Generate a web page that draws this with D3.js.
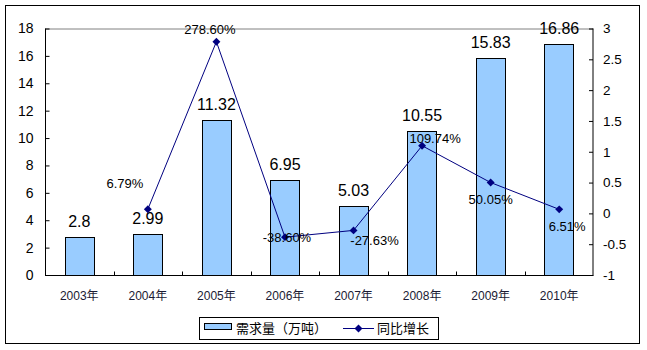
<!DOCTYPE html>
<html>
<head>
<meta charset="utf-8">
<script src="https://cdn.jsdelivr.net/npm/d3@7/dist/d3.min.js"></script>
<style>
  html, body { margin: 0; padding: 0; background: #fff; }
  svg { display: block; font-family: Arial, "Liberation Sans", "Noto Sans CJK SC", sans-serif; }
</style>
</head>
<body>
<svg id="chart" width="647" height="350"></svg>
<script>
// Demand (10k tonnes) and year-on-year growth, 2003–2010
const years = ["2003年", "2004年", "2005年", "2006年", "2007年", "2008年", "2009年", "2010年"];
const demand = [2.8, 2.99, 11.32, 6.95, 5.03, 10.55, 15.83, 16.86];
const growth = [null, 0.0679, 2.786, -0.386, -0.2763, 1.0974, 0.5005, 0.0651];
const growthLabels = [null, "6.79%", "278.60%", "-38.60%", "-27.63%", "109.74%", "50.05%", "6.51%"];
const leftTicks = [0, 2, 4, 6, 8, 10, 12, 14, 16, 18];
const rightTicks = [-1, -0.5, 0, 0.5, 1, 1.5, 2, 2.5, 3];
const seriesNames = ["需求量（万吨）", "同比增长"];

// label placement relative to each growth point (dx, dy of text baseline)
const growthLabelOffset = [null, [-23, -21], [-6.5, -8], [2, 5], [21, 15], [13, -3], [0, 21], [8, 22]];

const svg = d3.select("#chart");
const m = { left: 45, right: 593.5, top: 28.5, bottom: 275 };

const x = d3.scaleBand().domain(years).range([m.left, m.right]).paddingInner(0.57).paddingOuter(0.285);
const xPoint = d3.scaleBand().domain(years).range([m.left, m.right]);
const yL = d3.scaleLinear().domain([0, 18]).range([m.bottom, m.top]);
const yR = d3.scaleLinear().domain([-1, 3]).range([m.bottom, m.top]);

// outer chart frame
svg.append("rect").attr("x", 5.5).attr("y", 5.5).attr("width", 634).attr("height", 338)
  .attr("fill", "#fff").attr("stroke", "#000").attr("stroke-width", 1);

// plot area top edge
svg.append("line").attr("x1", m.left).attr("x2", m.right).attr("y1", m.top + 0.5).attr("y2", m.top + 0.5)
  .attr("stroke", "#808080").attr("stroke-width", 1);

// bars
svg.append("g").selectAll("rect").data(demand).join("rect")
  .attr("x", (d, i) => Math.round(x(years[i])) + 0.5)
  .attr("y", d => Math.round(yL(d)) + 0.5)
  .attr("width", Math.round(x.bandwidth()))
  .attr("height", d => Math.round(yL(0)) - Math.round(yL(d)))
  .attr("fill", "#99ccff").attr("stroke", "#000").attr("stroke-width", 1);

// bar value labels
svg.append("g").selectAll("text").data(demand).join("text")
  .attr("x", (d, i) => x(years[i]) + x.bandwidth() / 2)
  .attr("y", d => yL(d) - 10)
  .attr("text-anchor", "middle").attr("font-size", 16).attr("fill", "#000")
  .text(d => d);

// left axis
const axL = svg.append("g").attr("transform", `translate(${m.left + 0.5},0)`)
  .call(d3.axisRight(yL).tickValues(leftTicks).tickSize(4).tickFormat(d3.format("d")));
axL.select(".domain").attr("stroke", "#000").attr("d", `M0,${m.top}V${m.bottom + 0.5}`);
axL.selectAll(".tick line").attr("stroke", "#000");
axL.selectAll(".tick text").attr("x", -12).attr("text-anchor", "end")
  .attr("font-size", 14).attr("font-family", "Arial, 'Liberation Sans', sans-serif").attr("fill", "#000");

// right axis
const axR = svg.append("g").attr("transform", `translate(${m.right - 0.5},0)`)
  .call(d3.axisLeft(yR).tickValues(rightTicks).tickSize(4).tickFormat(d => d));
axR.select(".domain").attr("stroke", "#000").attr("d", `M0,${m.top}V${m.bottom + 0.5}`);
axR.selectAll(".tick line").attr("stroke", "#000");
axR.selectAll(".tick text").attr("x", 10).attr("text-anchor", "start")
  .attr("font-size", 13.5).attr("font-family", "Arial, 'Liberation Sans', sans-serif").attr("fill", "#000");

// bottom axis
const axB = svg.append("g").attr("transform", `translate(0,${m.bottom + 0.5})`);
axB.append("line").attr("x1", m.left).attr("x2", m.right).attr("stroke", "#000");
axB.selectAll("line.tk").data(years.slice(1)).join("line").attr("class", "tk")
  .attr("x1", d => Math.round(xPoint(d)) + 0.5).attr("x2", d => Math.round(xPoint(d)) + 0.5)
  .attr("y1", 0).attr("y2", -4).attr("stroke", "#000");
axB.selectAll("text").data(years).join("text")
  .attr("x", d => xPoint(d) + xPoint.bandwidth() / 2)
  .attr("y", 24).attr("text-anchor", "middle").attr("font-size", 12).attr("fill", "#1a1a33")
  .text(d => d);

// growth line
const pts = growth.map((g, i) => ({ g, i })).filter(p => p.g !== null);
const cx = p => xPoint(years[p.i]) + xPoint.bandwidth() / 2;
svg.append("path").datum(pts)
  .attr("d", d3.line().x(cx).y(p => yR(p.g)))
  .attr("fill", "none").attr("stroke", "#000080").attr("stroke-width", 1);
svg.append("g").selectAll("path").data(pts).join("path")
  .attr("transform", p => `translate(${cx(p)},${yR(p.g)})`)
  .attr("d", d3.symbol(d3.symbolDiamond2, 40))
  .attr("fill", "#000080");

// growth labels
svg.append("g").selectAll("text").data(pts).join("text")
  .attr("x", p => cx(p) + growthLabelOffset[p.i][0])
  .attr("y", p => yR(p.g) + growthLabelOffset[p.i][1])
  .attr("text-anchor", "middle").attr("font-size", 13).attr("fill", "#000")
  .text(p => growthLabels[p.i]);

// legend
const lg = svg.append("g");
lg.append("rect").attr("x", 199.5).attr("y", 317.5).attr("width", 239).attr("height", 22)
  .attr("fill", "#fff").attr("stroke", "#000");
lg.append("rect").attr("x", 204.5).attr("y", 323.5).attr("width", 27).attr("height", 6)
  .attr("fill", "#99ccff").attr("stroke", "#000");
lg.append("text").attr("x", 236).attr("y", 333).attr("font-size", 13).attr("fill", "#000")
  .attr("font-family", "'Noto Sans CJK SC', sans-serif").text(seriesNames[0]);
lg.append("line").attr("x1", 343).attr("x2", 374).attr("y1", 328.5).attr("y2", 328.5)
  .attr("stroke", "#000080");
lg.append("path").attr("transform", "translate(358.5,328.5)")
  .attr("d", d3.symbol(d3.symbolDiamond2, 40)).attr("fill", "#000080");
lg.append("text").attr("x", 377).attr("y", 333).attr("font-size", 13).attr("fill", "#000")
  .attr("font-family", "'Noto Sans CJK SC', sans-serif").text(seriesNames[1]);
</script>
</body>
</html>
